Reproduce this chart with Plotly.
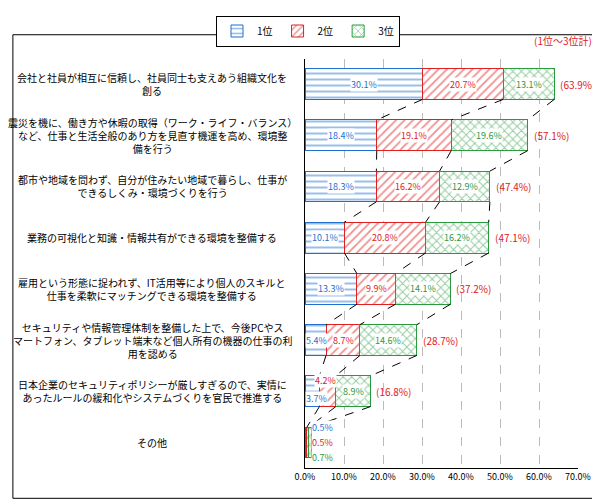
import plotly.graph_objects as go

cats = ["会社と社員が相互に信頼し、社員同士も支えあう組織文化を<br>創る",
 "震災を機に、働き方や休暇の取得（ワーク・ライフ・バランス）<br>など、仕事と生活全般のあり方を見直す機運を高め、環境整<br>備を行う",
 "都市や地域を問わず、自分が住みたい地域で暮らし、仕事が<br>できるしくみ・環境づくりを行う",
 "業務の可視化と知識・情報共有ができる環境を整備する",
 "雇用という形態に捉われず、IT活用等により個人のスキルと<br>仕事を柔軟にマッチングできる環境を整備する",
 "セキュリティや情報管理体制を整備した上で、今後PCやス<br>マートフォン、タブレット端末など個人所有の機器の仕事の利<br>用を認める",
 "日本企業のセキュリティポリシーが厳しすぎるので、実情に<br>あったルールの緩和化やシステムづくりを官民で推進する",
 "その他"]
r1 = [30.1, 18.4, 18.3, 10.1, 13.3, 5.4, 3.7, 0.5]
r2 = [20.7, 19.1, 16.2, 20.8, 9.9, 8.7, 4.2, 0.5]
r3 = [13.1, 19.6, 12.9, 16.2, 14.1, 14.6, 8.9, 0.7]
totals = [63.9, 57.1, 47.4, 47.1, 37.2, 28.7, 16.8]
names = ["1位", "2位", "3位"]
colors = ["#1f6fd0", "#e02020", "#2a9a40"]
shapes = ["-", "/", "x"]
W = 0.6
ys = list(range(len(cats)))
font = "Noto Sans CJK JP"

fig = go.Figure()
for vals, n, c, s in zip([r1, r2, r3], names, colors, shapes):
    fig.add_trace(go.Bar(y=ys, x=vals, orientation="h", name=n, width=W,
        marker=dict(color="white", line=dict(color=c, width=1),
                    pattern=dict(shape=s, fgcolor=c, size=6, solidity=0.3))))

for i in range(len(cats) - 1):
    a = [0, r1[i], r1[i]+r2[i], r1[i]+r2[i]+r3[i]]
    b = [0, r1[i+1], r1[i+1]+r2[i+1], r1[i+1]+r2[i+1]+r3[i+1]]
    for k in range(1, 4):
        fig.add_trace(go.Scatter(x=[a[k], b[k]], y=[i+W/2, i+1-W/2], mode="lines",
            line=dict(color="black", width=1, dash="dash"), showlegend=False, hoverinfo="skip"))

ann = []
for i in range(len(cats)):
    ann.append(dict(x=-0.56, xref="paper", y=i, text=cats[i], showarrow=False, xanchor="center",
        align="center", font=dict(size=10, family=font, color="black")))
    segs = [r1[i], r2[i], r3[i]]
    start = 0
    for k, v in enumerate(segs):
        x = start + v/2; y = i; xa = "center"
        if i == 7:
            x = 1.5; y = i - 0.3 + k*0.3; xa = "left"
        elif i == 6 and k == 0:
            x = 0; y = i + 0.15; xa = "left"
        elif i == 6 and k == 1:
            x = start + v + 0.3; y = i - 0.2; xa = "right"
        elif i == 5 and k == 0:
            x = 0; xa = "left"
        ann.append(dict(x=x, y=y, text=f"{v}%", showarrow=False, xanchor=xa,
            font=dict(size=9, color=colors[k], family=font), bgcolor="white", borderpad=0))
        start += v
    if i < len(totals):
        ann.append(dict(x=start+1, y=i, text=f"({totals[i]}%)", showarrow=False, xanchor="left",
            font=dict(size=10, color="#e02020", family=font)))
ann.append(dict(x=1.06, y=1.02, xref="paper", yref="paper", text="(1位～3位計)", showarrow=False,
    xanchor="right", yanchor="bottom", font=dict(size=10, color="#e02020", family=font)))

fig.update_layout(width=600, height=500, barmode="stack", plot_bgcolor="white", paper_bgcolor="white",
    margin=dict(l=297, r=30, t=30, b=40), bargap=0.4, annotations=ann,
    font=dict(family=font, size=9, color="black"),
    legend=dict(orientation="h", traceorder="normal", x=0.5, xanchor="center", xref="container",
        y=0.985, yanchor="top", yref="container", bordercolor="black", borderwidth=1,
        font=dict(size=10)),
    xaxis=dict(range=[0, 70], dtick=10, tickformat=".1f", ticksuffix="%", showgrid=True,
        gridcolor="#bbbbbb", griddash="dash", showline=True, linecolor="black", zeroline=False),
    yaxis=dict(tickvals=ys, ticktext=[""]*len(ys), autorange="reversed", range=[7.5, -0.5],
        showline=True, linecolor="black", ticks=""))
fig.add_shape(type="rect", xref="paper", yref="paper", x0=-1.07, x1=1.084, y0=-0.074, y1=1.058,
    line=dict(color="black", width=1))
fig.write_html("out.html")
